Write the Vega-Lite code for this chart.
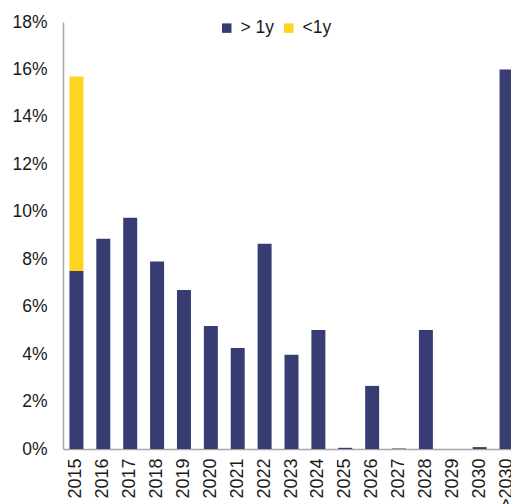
{
  "$schema": "https://vega.github.io/schema/vega-lite/v6.json",
  "autosize": {"type": "none"},
  "width": 448,
  "height": 427,
  "padding": {"left": 63, "top": 22, "right": 0, "bottom": 55},
  "background": "white",
  "config": {
    "view": {"stroke": null},
    "font": "Liberation Sans",
    "axis": {"labelFont": "Liberation Sans", "labelFontSize": 17.5, "labelColor": "#1a1a1a", "domainColor": "#a6a6a6", "domainWidth": 1.5, "ticks": false, "grid": false, "title": null}
  },
  "data": {
    "values": [
      {"year": "2015", "type": "> 1y", "o": 1, "v": 0.075},
      {"year": "2015", "type": "<1y", "o": 2, "v": 0.082},
      {"year": "2016", "type": "> 1y", "o": 1, "v": 0.0886},
      {"year": "2017", "type": "> 1y", "o": 1, "v": 0.0975},
      {"year": "2018", "type": "> 1y", "o": 1, "v": 0.079},
      {"year": "2019", "type": "> 1y", "o": 1, "v": 0.067},
      {"year": "2020", "type": "> 1y", "o": 1, "v": 0.0519},
      {"year": "2021", "type": "> 1y", "o": 1, "v": 0.0426},
      {"year": "2022", "type": "> 1y", "o": 1, "v": 0.0865},
      {"year": "2023", "type": "> 1y", "o": 1, "v": 0.0397},
      {"year": "2024", "type": "> 1y", "o": 1, "v": 0.0502},
      {"year": "2025", "type": "> 1y", "o": 1, "v": 0.0005},
      {"year": "2026", "type": "> 1y", "o": 1, "v": 0.0266},
      {"year": "2027", "type": "> 1y", "o": 1, "v": 0.0002},
      {"year": "2028", "type": "> 1y", "o": 1, "v": 0.0502},
      {"year": "2029", "type": "> 1y", "o": 1, "v": 0.0},
      {"year": "2030", "type": "> 1y", "o": 1, "v": 0.0008},
      {"year": ">2030", "type": "> 1y", "o": 1, "v": 0.16}
    ]
  },
  "mark": {"type": "bar", "clip": false},
  "encoding": {
    "x": {
      "field": "year", "type": "nominal", "sort": null,
      "scale": {"range": [0, 457], "paddingInner": 0.48, "paddingOuter": 0.24},
      "axis": {"labelAngle": -90, "labelPadding": 9, "labelFontSize": 18}
    },
    "y": {
      "field": "v", "type": "quantitative", "stack": "zero",
      "scale": {"domain": [0, 0.18], "nice": false},
      "axis": {"format": ".0%", "values": [0, 0.02, 0.04, 0.06, 0.08, 0.1, 0.12, 0.14, 0.16, 0.18], "labelPadding": 16}
    },
    "order": {"field": "o", "type": "quantitative"},
    "color": {
      "field": "type", "type": "nominal",
      "scale": {"domain": ["> 1y", "<1y"], "range": ["#373d73", "#fdd420"]},
      "legend": {
        "title": null, "orient": "none", "direction": "horizontal",
        "legendX": 155, "legendY": -3, "padding": 0,
        "symbolType": "square", "symbolSize": 90, "symbolStrokeWidth": 0,
        "labelFontSize": 17.5, "labelFont": "Liberation Sans", "labelColor": "#1a1a1a",
        "labelOffset": 5, "columnPadding": 5
      }
    }
  }
}
